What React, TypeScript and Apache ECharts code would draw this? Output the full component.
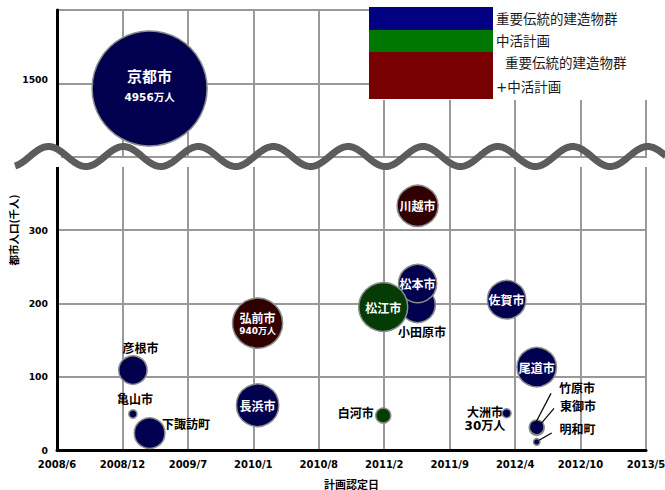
import React, { useEffect, useRef } from 'react';
import * as echarts from 'echarts';

// ---- axis settings (x values are spreadsheet serial days) ----
const xMin = 39600; // 2008/6/1
const xMax = 41400; // 2013/5/6
const xStep = 200;
const yMax = 600;
const yStep = 100;
const breakOffset = 1000; // values above the axis break are shown shifted by this
const yTickLabels: Record<number, string> = { 0: '0', 100: '100', 200: '200', 300: '300', 500: '1500' };

// ---- series: 重要伝統的建造物群 ----
const denkenCities = ['京都市', '彦根市', '亀山市', '下諏訪町', '長浜市', '小田原市', '松本市', '佐賀市', '尾道市', '大洲市', '竹原市', '東御市', '明和町'];
const denkenDates = ['2009/3/11', '2009/1/19', '2009/1/19', '2009/3/11', '2010/2/4', '2011/6/8', '2011/6/8', '2012/3/6', '2012/6/6', '2012/3/6', '2012/6/6', '2012/6/6', '2012/6/6'];
const denkenPopulation = [1493, 109, 49, 23, 61, 198, 227, 205, 113, 50, 30, 31, 11];
const denkenVisitors = [4956, 302, 26, 351, 673, 470, 547, 553, 582, 30, 80, 80, 16];

// ---- series: 中活計画 ----
const chukatsuCities = ['白河市', '松江市'];
const chukatsuDates = ['2011/2/23', '2011/2/23'];
const chukatsuPopulation = [47, 195];
const chukatsuVisitors = [84, 900];

// ---- series: 重要伝統的建造物群+中活計画 ----
const bothCities = ['弘前市', '川越市'];
const bothDates = ['2010/2/4', '2011/6/8'];
const bothPopulation = [173, 333];
const bothVisitors = [940, 630];

const legendNames = ['重要伝統的建造物群', '中活計画', '重要伝統的建造物群\n+中活計画'];

// ---- styles ----
const legendColors = ['#000080', '#007800', '#780000'];
const bubbleColors = ['#00004e', '#053c05', '#300000'];
const cjkFont = "'Noto Sans CJK JP', sans-serif";
const numFont = "'DejaVu Sans', 'Noto Sans CJK JP', sans-serif";
const maxVisitors = 4956;
const maxRadius = 57.5;

const insideLabel = new Set(['京都市', '弘前市', '長浜市', '松江市', '松本市', '川越市', '佐賀市', '尾道市']);
const showVisitors = new Set(['京都市', '弘前市', '大洲市']);
const outsideOffsets: Record<string, [number, number]> = {
  '彦根市': [7.5, -21.5],
  '亀山市': [2, -14],
  '下諏訪町': [36.5, -8],
  '白河市': [-27.5, -2],
  '小田原市': [4.5, 28.3],
  '大洲市': [-21.7, 6],
  '竹原市': [40.3, -39],
  '東御市': [41.3, -20],
  '明和町': [40.8, -11.7],
};
const leaderLines: Record<string, [number, number, number, number]> = {
  '竹原市': [-1.7, -4, 14.3, -34.6],
  '東御市': [3.3, -2.3, 17.3, -19],
  '明和町': [2.3, -1.7, 15, -9],
};

function toSerial(s: string): number {
  const [y, m, d] = s.split('/').map(Number);
  return Date.UTC(y, m - 1, d) / 86400000 + 25569;
}
function serialLabel(v: number): string {
  const d = new Date((v - 25569) * 86400000);
  return d.getUTCFullYear() + '/' + (d.getUTCMonth() + 1);
}
function plotY(v: number): number {
  return v > breakOffset ? v - breakOffset : v;
}
function bubbleDiameter(v: number): number {
  return 2 * maxRadius * Math.sqrt(v / maxVisitors);
}

function labelFor(name: string, visitors: number): any {
  if (name === '京都市') {
    return {
      show: true, position: 'inside', offset: [0, -2],
      formatter: `{a|${name}}\n{b|${visitors}万人}`,
      rich: {
        a: { color: '#fff', fontSize: 15, fontWeight: 'bold', fontFamily: cjkFont, lineHeight: 22 },
        b: { color: '#fff', fontSize: 10.5, fontWeight: 'bold', fontFamily: numFont, lineHeight: 22 },
      },
    };
  }
  if (name === '弘前市') {
    return {
      show: true, position: 'inside', offset: [0, 1],
      formatter: `{a|${name}}\n{b|${visitors}万人}`,
      rich: {
        a: { color: '#fff', fontSize: 12, fontWeight: 'bold', fontFamily: cjkFont, lineHeight: 13 },
        b: { color: '#fff', fontSize: 9, fontWeight: 'bold', fontFamily: numFont, lineHeight: 13 },
      },
    };
  }
  if (insideLabel.has(name)) {
    return { show: true, position: 'inside', formatter: name, color: '#fff', fontSize: 12, fontWeight: 'bold', fontFamily: cjkFont };
  }
  const text = showVisitors.has(name) ? `${name}\n${visitors}万人` : name;
  return {
    show: true, position: 'inside', offset: outsideOffsets[name] || [0, 0], formatter: text,
    color: '#000', fontSize: 12, fontWeight: 'bold', fontFamily: numFont, lineHeight: 12.5, align: 'center',
  };
}

function buildSeries(name: string, cities: string[], dates: string[], pops: number[], visits: number[], fill: string): any {
  return {
    type: 'scatter',
    name,
    symbolSize: (val: number[]) => bubbleDiameter(val[2]),
    itemStyle: { color: fill, borderColor: '#8c8c8c', borderWidth: 1.5, opacity: 1 },
    emphasis: { disabled: true },
    data: cities.map((c, i) => ({
      name: c,
      value: [toSerial(dates[i]), plotY(pops[i]), visits[i]],
      label: labelFor(c, visits[i]),
    })),
  };
}

export default function App() {
  const ref = useRef<HTMLDivElement>(null);
  useEffect(() => {
    if (!ref.current) return;
    const chart = echarts.init(ref.current, undefined, { renderer: 'svg' });
    const series = [
      buildSeries(legendNames[0], denkenCities, denkenDates, denkenPopulation, denkenVisitors, bubbleColors[0]),
      buildSeries(legendNames[1], chukatsuCities, chukatsuDates, chukatsuPopulation, chukatsuVisitors, bubbleColors[1]),
      buildSeries(legendNames[2], bothCities, bothDates, bothPopulation, bothVisitors, bubbleColors[2]),
    ];
    chart.setOption({
      animation: false,
      backgroundColor: '#fff',
      grid: { left: 57, right: 19, top: 10, bottom: 40, containLabel: false, outerBoundsMode: 'none' },
      xAxis: {
        type: 'value', min: xMin, max: xMax, interval: xStep,
        name: '計画認定日', nameLocation: 'middle', nameGap: 28, nameMoveOverlap: false,
        nameTextStyle: { fontSize: 11, fontWeight: 'bold', fontFamily: cjkFont, color: '#000' },
        axisLine: { show: true, onZero: false, lineStyle: { color: '#000', width: 3 } },
        axisTick: { show: false },
        axisLabel: {
          formatter: serialLabel, fontSize: 10, fontWeight: 'bold', fontFamily: numFont, color: '#000',
          margin: 9, showMinLabel: true, showMaxLabel: true,
        },
        splitLine: { show: true, lineStyle: { color: '#999', width: 2 } },
      },
      yAxis: {
        type: 'value', min: 0, max: yMax, interval: yStep,
        name: '都市人口(千人)', nameLocation: 'middle', nameGap: 38, nameRotate: 90, nameMoveOverlap: false,
        nameTextStyle: { fontSize: 10.5, fontWeight: 'bold', fontFamily: cjkFont, color: '#000' },
        axisLine: { show: true, lineStyle: { color: '#000', width: 3 } },
        axisTick: { show: false },
        axisLabel: {
          formatter: (v: number) => {
            const t = yTickLabels[v] ?? '';
            return v > 400 && t ? `{up|${t}}` : t;
          },
          rich: { up: { fontSize: 9.25, fontWeight: 'bold', fontFamily: numFont, color: '#000', padding: [0, 0, 7, 0] } },
          fontSize: 9.25, fontWeight: 'bold', fontFamily: numFont,
          color: '#000', margin: 9,
        },
        splitLine: { show: true, lineStyle: { color: '#999', width: 2 } },
      },
      series,
    });

    // decorations: axis break wave, legend, leader lines
    const graphics: any[] = [];
    graphics.push({ type: 'rect', z: 100, shape: { x: 15, y: 158, width: 650, height: 9 }, style: { fill: '#fff' } });
    graphics.push({ type: 'rect', z: 100, shape: { x: 53, y: 150, width: 8, height: 17 }, style: { fill: '#fff' } });
    const wavePts: number[][] = [];
    for (let x = 15; x <= 666; x += 1.5) {
      wavePts.push([x, 156.5 - 10 * Math.cos((2 * Math.PI * (x - 48.5)) / 74.9)]);
    }
    graphics.push({ type: 'polyline', z: 101, shape: { points: wavePts }, style: { stroke: '#5c5c5c', lineWidth: 7, fill: null, lineJoin: 'round' } });

    // legend
    graphics.push({ type: 'rect', z: 100, shape: { x: 369, y: 0, width: 296, height: 100 }, style: { fill: '#fff' } });
    const legendRows = [[7, 23], [30, 22], [52, 47]];
    legendRows.forEach(([y, h], i) => {
      graphics.push({ type: 'rect', z: 101, shape: { x: 369, y, width: 124, height: h }, style: { fill: legendColors[i] } });
    });
    const legendTexts: [string, number, number][] = [
      [legendNames[0], 496, 18.5],
      [legendNames[1], 496, 41],
      [legendNames[2].split('\n')[0], 505, 63],
      [legendNames[2].split('\n')[1], 496, 86.5],
    ];
    legendTexts.forEach(([t, x, y]) => {
      graphics.push({
        type: 'text', z: 102, x, y,
        style: { text: t, fill: '#1a1a1a', fontSize: 13.5, fontFamily: numFont, verticalAlign: 'middle', align: 'left' },
      });
    });

    // leader lines
    const allCities = [denkenCities, chukatsuCities, bothCities];
    const allDates = [denkenDates, chukatsuDates, bothDates];
    const allPops = [denkenPopulation, chukatsuPopulation, bothPopulation];
    Object.keys(leaderLines).forEach((name) => {
      for (let s = 0; s < 3; s++) {
        const i = allCities[s].indexOf(name);
        if (i >= 0) {
          const p = chart.convertToPixel({ gridIndex: 0 }, [toSerial(allDates[s][i]), plotY(allPops[s][i])]) as number[];
          const [a, b, c, d] = leaderLines[name];
          graphics.push({
            type: 'line', z: 50,
            shape: { x1: p[0] + a, y1: p[1] + b, x2: p[0] + c, y2: p[1] + d },
            style: { stroke: '#000', lineWidth: 1.2 },
          });
        }
      }
    });
    chart.setOption({ graphic: graphics });

    return () => chart.dispose();
  }, []);
  return <div ref={ref} style={{ position: 'fixed', left: 0, top: 0, width: 665, height: 490 }} />;
}
